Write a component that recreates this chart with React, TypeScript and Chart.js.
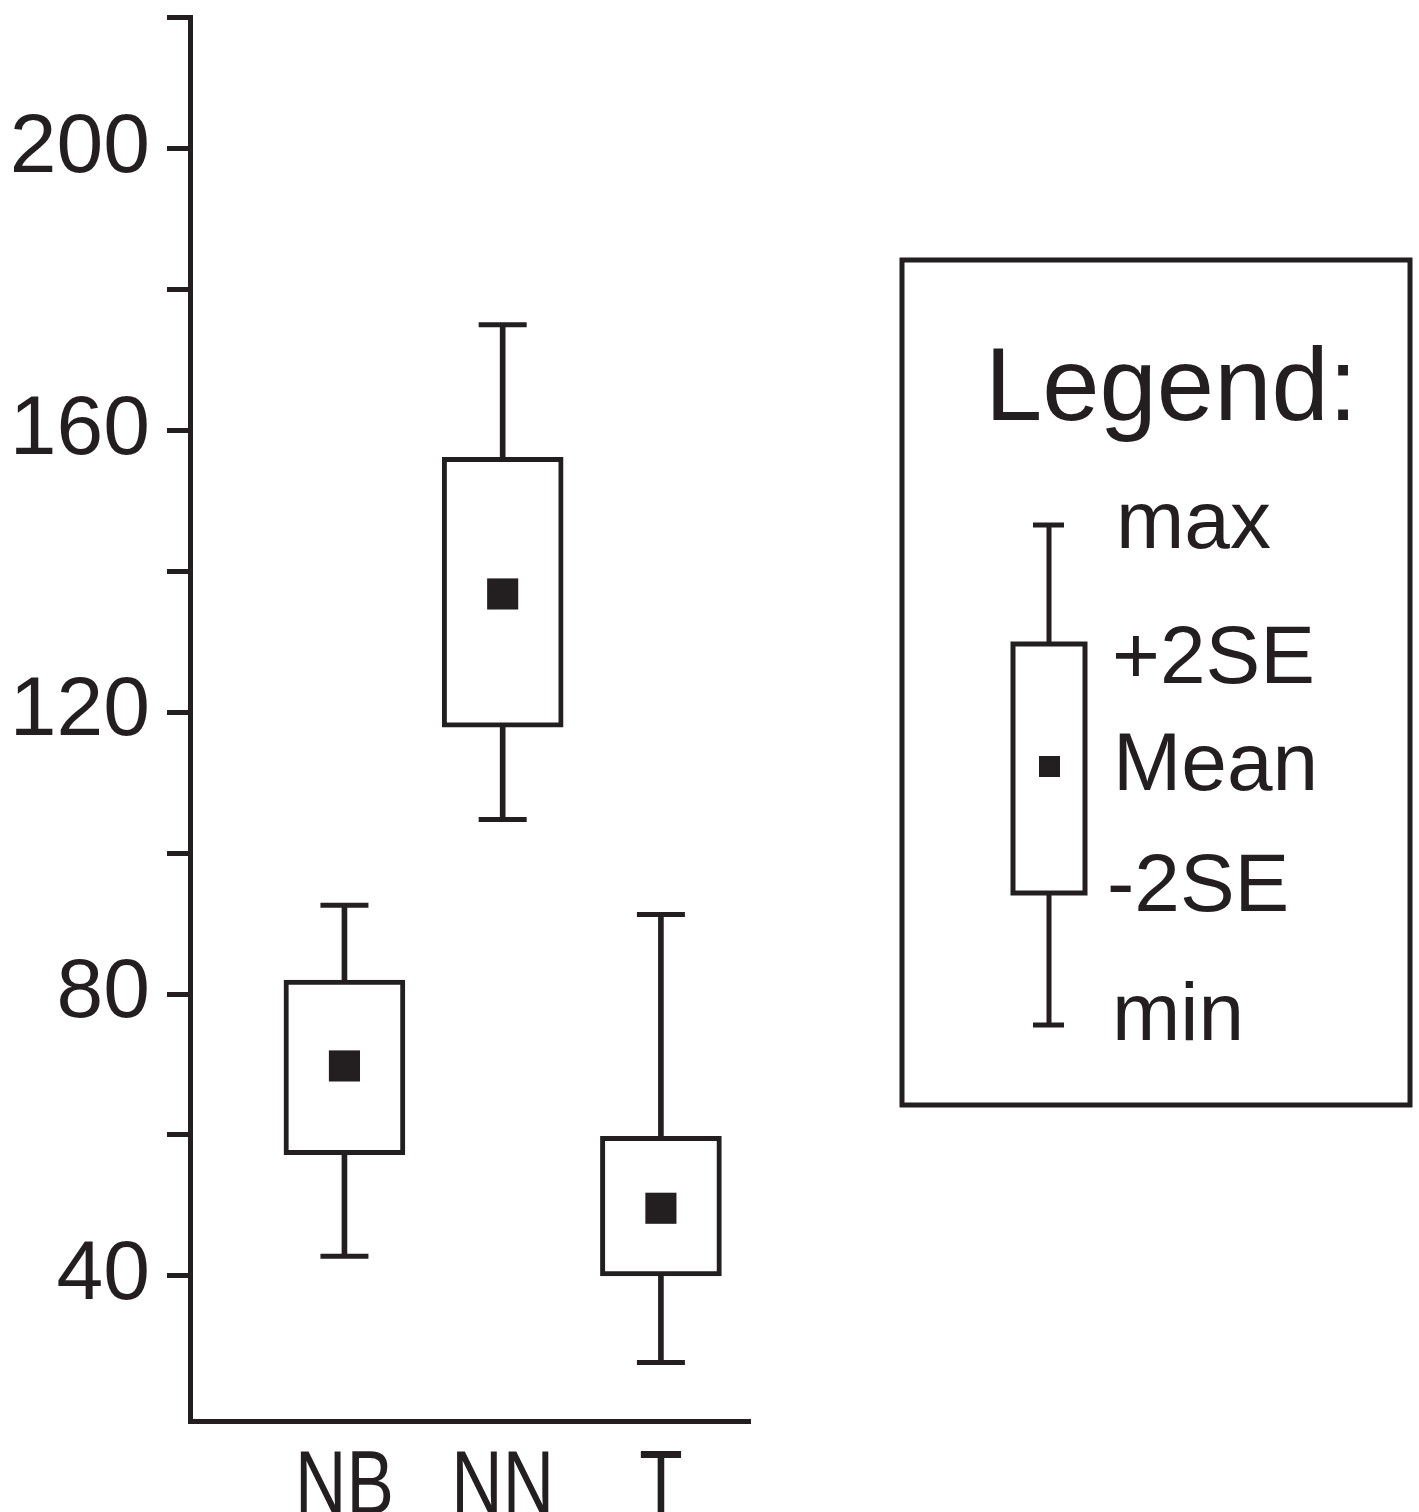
import React, { useEffect, useRef } from "react";
import { Chart, registerables } from "chart.js";

Chart.register(...registerables);

// ---- data ----
const categories = ["NB", "NN", "T"];
const categoryPositions = [1, 2, 3];
const maxValues = [92.6, 175.0, 91.3];
const plus2SE = [82.0, 156.2, 59.8];
const meanValues = [69.8, 136.8, 49.6];
const minus2SE = [57.2, 117.9, 40.0];
const minValues = [42.8, 104.8, 27.7];

const yTickValues = [40, 60, 80, 100, 120, 140, 160, 180, 200];
const yLabelledTicks = [40, 80, 120, 160, 200];
const yAxisMin = 19.4;
const yAxisMax = 218.7;
const xAxisMin = 0.024;
const xAxisMax = 3.563;

const legendTitle = "Legend:";
const legendLabels = ["max", "+2SE", "Mean", "-2SE", "min"];

const INK = "#231f20";
const SANS = '"Liberation Sans", Arial, Helvetica, sans-serif';
const LW = 5;

// draws the category labels under the x axis (condensed, as in the source figure)
const xLabels = {
  id: "xLabels",
  afterDraw(chart: any) {
    const scale = chart.scales.x;
    const ctx = chart.ctx as CanvasRenderingContext2D;
    ctx.save();
    ctx.fillStyle = INK;
    ctx.font = `90px ${SANS}`;
    ctx.textAlign = "center";
    ctx.textBaseline = "alphabetic";
    const base = scale.top + 29 + 0.716 * 90;
    scale.ticks.forEach((t: any) => {
      const i = categoryPositions.indexOf(Number(t.value));
      if (i < 0) return;
      const px = scale.getPixelForValue(t.value);
      ctx.save();
      ctx.translate(px, base);
      ctx.scale(0.79, 1);
      ctx.fillText(categories[i], 0, 0);
      ctx.restore();
    });
    ctx.restore();
  },
};

const legendPanel = {
  id: "legendPanel",
  afterDraw(chart: any) {
    const ctx = chart.ctx as CanvasRenderingContext2D;
    ctx.save();
    ctx.strokeStyle = INK;
    ctx.fillStyle = INK;
    ctx.lineWidth = 5;
    ctx.strokeRect(902, 260, 508, 845);

    ctx.font = `103px ${SANS}`;
    ctx.textBaseline = "alphabetic";
    ctx.textAlign = "left";
    ctx.fillText(legendTitle, 985, 420);

    // sample glyph
    const cx = 1049;
    ctx.lineWidth = 5;
    ctx.beginPath();
    ctx.moveTo(cx, 525);
    ctx.lineTo(cx, 644);
    ctx.moveTo(cx, 893);
    ctx.lineTo(cx, 1025);
    ctx.moveTo(1033, 525);
    ctx.lineTo(1064, 525);
    ctx.moveTo(1033, 1025);
    ctx.lineTo(1064, 1025);
    ctx.stroke();
    ctx.fillStyle = "#ffffff";
    ctx.fillRect(1013, 644, 72, 249);
    ctx.strokeRect(1013, 644, 72, 249);
    ctx.fillStyle = INK;
    ctx.fillRect(1039, 756, 21, 21);

    ctx.font = `82px ${SANS}`;
    const lx = [1116, 1112, 1113, 1107, 1112];
    const ly = [548, 683, 790, 911, 1040];
    legendLabels.forEach((t, i) => ctx.fillText(t, lx[i], ly[i]));
    ctx.restore();
  },
};

export default function App() {
  const ref = useRef<HTMLCanvasElement | null>(null);

  useEffect(() => {
    if (!ref.current) return;
    const pts = (vals: number[]) => categoryPositions.map((x, i) => ({ x, y: vals[i] }));
    const ranges = (a: number[], b: number[]) =>
      categoryPositions.map((x, i) => ({ x, y: [a[i], b[i]] }));

    const chart = new Chart(ref.current, {
      type: "bar",
      data: {
        datasets: [
          {
            type: "line",
            label: "Mean",
            data: pts(meanValues) as any,
            showLine: false,
            pointStyle: "rect",
            pointRadius: 22,
            pointBackgroundColor: INK,
            pointBorderWidth: 0,
            borderColor: INK,
            order: 0,
          } as any,
          {
            type: "line",
            label: "max",
            data: pts(maxValues) as any,
            showLine: false,
            pointStyle: "line",
            pointRadius: 24,
            pointBorderWidth: LW,
            pointBorderColor: INK,
            borderColor: INK,
            order: 1,
          } as any,
          {
            type: "line",
            label: "min",
            data: pts(minValues) as any,
            showLine: false,
            pointStyle: "line",
            pointRadius: 24,
            pointBorderWidth: LW,
            pointBorderColor: INK,
            borderColor: INK,
            order: 1,
          } as any,
          {
            type: "bar",
            label: "upper whisker",
            data: ranges(plus2SE, maxValues) as any,
            backgroundColor: INK,
            borderWidth: 0,
            barThickness: LW,
            grouped: false,
            order: 2,
          } as any,
          {
            type: "bar",
            label: "lower whisker",
            data: ranges(minValues, minus2SE) as any,
            backgroundColor: INK,
            borderWidth: 0,
            barThickness: LW,
            grouped: false,
            order: 2,
          } as any,
          {
            type: "bar",
            label: "±2SE",
            data: ranges(minus2SE, plus2SE) as any,
            backgroundColor: "#ffffff",
            borderColor: INK,
            borderWidth: LW,
            borderSkipped: false,
            barThickness: 121,
            grouped: false,
            order: 3,
          } as any,
        ],
      },
      options: {
        animation: false,
        responsive: false,
        maintainAspectRatio: false,
        layout: { autoPadding: false, padding: { top: 17, right: 669, left: 0, bottom: 0 } },
        plugins: {
          legend: { display: false },
          tooltip: { enabled: false },
        },
        scales: {
          x: {
            type: "linear",
            min: xAxisMin,
            max: xAxisMax,
            offset: false,
            grid: { display: false },
            border: { display: true, color: INK, width: LW },
            afterBuildTicks: (scale: any) => {
              scale.ticks = categoryPositions.map((v) => ({ value: v }));
            },
            afterFit: (scale: any) => {
              scale.height = 91;
              scale.paddingLeft = 0;
              scale.paddingRight = 0;
            },
            ticks: {
              display: false,
              autoSkip: false,
              maxRotation: 0,
            },
          },
          y: {
            type: "linear",
            min: yAxisMin,
            max: yAxisMax,
            grid: {
              display: true,
              drawOnChartArea: false,
              drawTicks: true,
              tickLength: 23,
              tickWidth: LW,
              tickColor: INK,
              color: INK,
            },
            border: { display: true, color: INK, width: LW },
            afterBuildTicks: (scale: any) => {
              scale.ticks = [...yTickValues, yAxisMax].map((v) => ({ value: v }));
            },
            afterFit: (scale: any) => {
              scale.width = 190;
              scale.paddingTop = 0;
              scale.paddingBottom = 0;
            },
            ticks: {
              autoSkip: false,
              padding: 17,
              color: INK,
              font: { family: SANS, size: 84 },
              callback: (v: any) => (yLabelledTicks.includes(Number(v)) ? String(v) : ""),
            },
          },
        },
      },
      plugins: [legendPanel, xLabels],
    });
    return () => chart.destroy();
  }, []);

  return (
    <div
      style={{
        position: "absolute",
        left: 0,
        top: 0,
        width: 1419,
        height: 1512,
        background: "#ffffff",
        overflow: "hidden",
      }}
    >
      <canvas ref={ref} width={1419} height={1512} style={{ display: "block" }} />
    </div>
  );
}
